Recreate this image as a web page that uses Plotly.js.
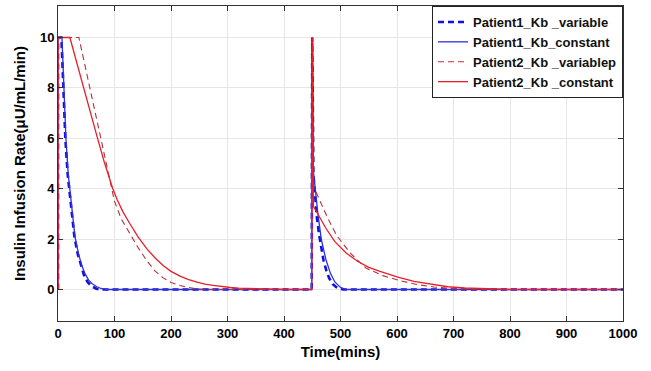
<!DOCTYPE html>
<html>
<head>
<meta charset="utf-8">
<script src="https://cdn.plot.ly/plotly-3.0.1.min.js"></script>
<style>
html,body{margin:0;padding:0;background:#fff;}
#chart{width:651px;height:371px;}
</style>
</head>
<body>
<div id="chart"></div>
<script>
// Patient1_Kb _variable (blue dashed)
const p1VarT = [0,0,6,9,13,17,20,24,29,35,41,47,53,60,68,75,449,450,452,455,458,462,466,470,475,480,486,492,498,505,1000];
const p1VarY = [0,10,10,8.3,6,4.6,3.9,3.0,2.1,1.4,0.9,0.5,0.28,0.12,0.03,0,0,10,4.6,3.7,2.9,2.2,1.6,1.15,0.75,0.45,0.22,0.1,0.03,0,0];
// Patient1_Kb_constant (blue solid)
const p1ConT = [0,0,7,10,14,18,21,25,30,36,42,48,54,60,68,76,85,449,450,452,456,460,466,474,482,490,500,510,1000];
const p1ConY = [0,10,10,8.3,6,4.6,3.9,3.0,2.1,1.45,0.95,0.62,0.38,0.24,0.12,0.04,0,0,10,4.7,3.8,3.0,2.0,1.2,0.65,0.3,0.08,0,0];
// Patient2_Kb _variablep (red dashed)
const p2VarT = [0,0,37,56,75,90,100,112,127,142,157,171,186,200,216,230,245,260,449,450,452,461,476,493,517,545,575,605,635,665,700,740,1000];
const p2VarY = [0,10,10,8,6,4.45,3.5,2.8,2.2,1.65,1.15,0.75,0.46,0.28,0.16,0.08,0.03,0,0,10,4.1,3.65,2.9,2.15,1.45,0.85,0.55,0.35,0.2,0.1,0.03,0,0];
// Patient2_Kb _constant (red solid)
const p2ConT = [0,0,21,33,46,58,70,82,90,97,105,115,127,142,157,172,186,200,216,230,246,260,275,290,305,320,335,350,370,400,449,450,452,460,475,490,510,530,550,570,600,630,660,690,720,760,800,1000];
const p2ConY = [0,10,10,9,8,7,6,5.05,4.45,4.0,3.55,3.08,2.62,2.08,1.62,1.25,0.95,0.72,0.53,0.4,0.29,0.21,0.16,0.11,0.08,0.055,0.04,0.025,0.012,0,0,10,3.3,3.0,2.4,1.9,1.45,1.12,0.88,0.72,0.5,0.32,0.2,0.11,0.06,0.02,0,0];

const seriesNames = ['Patient1_Kb _variable','Patient1_Kb_constant','Patient2_Kb _variablep','Patient2_Kb _constant'];
const xTicks = [0,100,200,300,400,500,600,700,800,900,1000];
const yTicks = [0,2,4,6,8,10];

const traces = [
  {x:p1VarT, y:p1VarY, name:seriesNames[0], mode:'lines', line:{color:'#1010e0', width:2.6, dash:'6px,4px'}},
  {x:p1ConT, y:p1ConY, name:seriesNames[1], mode:'lines', line:{color:'#3030d8', width:1.3}},
  {x:p2VarT, y:p2VarY, name:seriesNames[2], mode:'lines', line:{color:'#b8303c', width:1.1, dash:'6px,4px'}},
  {x:p2ConT, y:p2ConY, name:seriesNames[3], mode:'lines', line:{color:'#e6202a', width:1.3}}
];

const axisFont = {family:'Liberation Sans, Arial, sans-serif', size:13, color:'#000'};
const layout = {
  width:651, height:371,
  margin:{l:58, r:28, t:6, b:50, pad:0},
  paper_bgcolor:'#fff', plot_bgcolor:'#fff',
  showlegend:true,
  legend:{x:1, xanchor:'right', y:1, yanchor:'top', bgcolor:'#fff', bordercolor:'#222', borderwidth:1,
          font:{family:'Liberation Sans, Arial, sans-serif', size:13, color:'#111', weight:'bold'},
          tracegroupgap:0, itemwidth:30},
  xaxis:{range:[0,1000], tickvals:xTicks, ticktext:xTicks.map(String), ticks:'inside', ticklen:5, tickcolor:'#333',
         showline:true, linecolor:'#333', linewidth:1, mirror:'ticks', showgrid:true, gridcolor:'#e6e6e6', zeroline:false,
         tickfont:Object.assign({weight:'bold'}, axisFont),
         title:{text:'Time(mins)', font:{family:'Liberation Sans, Arial, sans-serif', size:15, color:'#000', weight:'bold'}, standoff:6}},
  yaxis:{range:[-1.25,11.25], tickvals:yTicks, ticktext:yTicks.map(String), ticks:'inside', ticklen:5, tickcolor:'#333',
         showline:true, linecolor:'#333', linewidth:1, mirror:'ticks', showgrid:true, gridcolor:'#e6e6e6', zeroline:false,
         tickfont:Object.assign({weight:'bold'}, axisFont),
         title:{text:'Insulin Infusion Rate(μU/mL/min)', font:{family:'Liberation Sans, Arial, sans-serif', size:15, color:'#000', weight:'bold'}, standoff:10}}
};

Plotly.newPlot('chart', traces, layout, {displayModeBar:false, staticPlot:true});
</script>
</body>
</html>
